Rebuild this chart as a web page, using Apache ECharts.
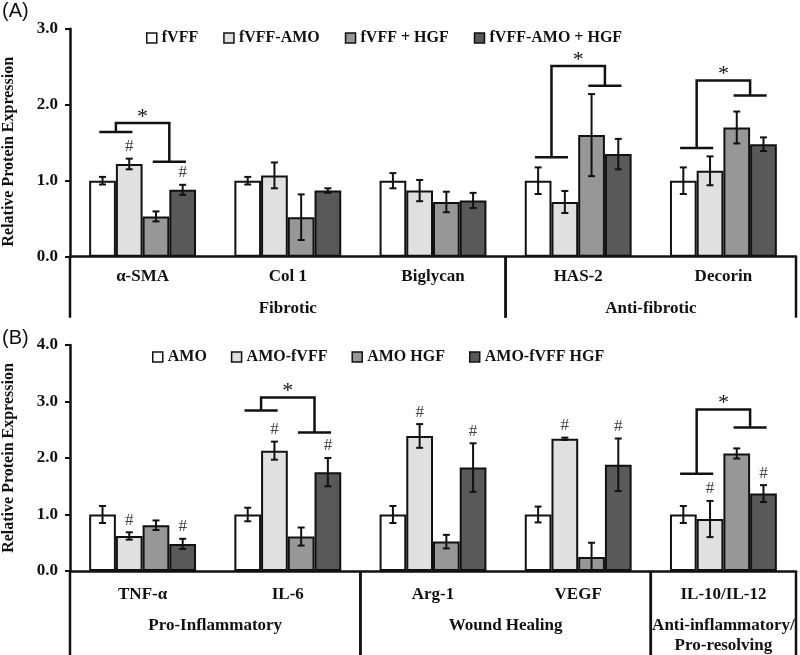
<!DOCTYPE html>
<html>
<head>
<meta charset="utf-8">
<script src="https://cdn.jsdelivr.net/npm/echarts@6/dist/echarts.min.js"></script>
<style>
  html, body { margin: 0; padding: 0; background: #fff; }
  #main { width: 800px; height: 655px; }
</style>
</head>
<body>
<div id="main"></div>
<script>
// panel (A)
const catsA = ['α-SMA', 'Col 1', 'Biglycan', 'HAS-2', 'Decorin'];
const namesA = ['fVFF', 'fVFF-AMO', 'fVFF + HGF', 'fVFF-AMO + HGF'];
const meanA = [
  [1.00, 1.00, 1.00, 1.00, 1.00],
  [1.22, 1.07, 0.87, 0.72, 1.13],
  [0.53, 0.52, 0.72, 1.60, 1.70],
  [0.88, 0.87, 0.74, 1.35, 1.48]
];
const errA = [
  [0.05, 0.05, 0.10, 0.175, 0.175],
  [0.07, 0.17, 0.14, 0.145, 0.19],
  [0.066, 0.30, 0.135, 0.54, 0.21],
  [0.066, 0.03, 0.10, 0.20, 0.09]
];
const hashA = [[1, 0], [3, 0]];                 // [series, category]
const bracketsA = [[0, 1.64, 1.25, 1.76], [3, 1.31, 2.25, 2.51], [4, 1.43, 2.12, 2.32]]; // [category, left, right, top]
const groupsA = [[0, 2, 'Fibrotic'], [3, 4, 'Anti-fibrotic']];

// panel (B)
const catsB = ['TNF-α', 'IL-6', 'Arg-1', 'VEGF', 'IL-10/IL-12'];
const namesB = ['AMO', 'AMO-fVFF', 'AMO HGF', 'AMO-fVFF HGF'];
const meanB = [
  [1.00, 1.00, 1.00, 1.00, 1.00],
  [0.62, 2.13, 2.39, 2.34, 0.92],
  [0.81, 0.61, 0.52, 0.25, 2.08],
  [0.48, 1.75, 1.83, 1.88, 1.37]
];
const errB = [
  [0.15, 0.12, 0.15, 0.14, 0.15],
  [0.065, 0.16, 0.21, 0.02, 0.32],
  [0.085, 0.16, 0.12, 0.25, 0.09],
  [0.09, 0.25, 0.43, 0.465, 0.15]
];
const hashB = [[1, 0], [3, 0], [1, 1], [3, 1], [1, 2], [3, 2], [1, 3], [3, 3], [1, 4], [3, 4]];
const bracketsB = [[1, 2.84, 2.45, 3.07], [4, 1.72, 2.54, 2.86]];
const groupsB = [[0, 1, 'Pro-Inflammatory'], [2, 3, 'Wound Healing'], [4, 4, 'Anti-inflammatory/\nPro-resolving']];

const fills = ['#ffffff', '#e0e0e0', '#979797', '#595959'];
const SERIF = '"Liberation Serif", "Times New Roman", serif';
const BAR_FRAC = 0.184;

function bars(gi, names, means) {
  return names.map((n, s) => ({
    name: n, type: 'bar', xAxisIndex: gi, yAxisIndex: gi,
    barWidth: (BAR_FRAC * 100) + '%', barGap: '0%',
    itemStyle: { color: fills[s], borderColor: '#111', borderWidth: 2 },
    data: means[s]
  }));
}

function errorBars(gi, means, errs, hashes) {
  const data = [];
  means.forEach((m, s) => m.forEach((v, c) => {
    const h = hashes.some(x => x[0] === s && x[1] === c) ? 1 : 0;
    data.push([c, v - errs[s][c], v + errs[s][c], s, h]);
  }));
  return {
    type: 'custom', xAxisIndex: gi, yAxisIndex: gi, z: 5, data,
    encode: { x: 0, y: [1, 2] },
    renderItem(params, api) {
      const c = api.value(0), s = api.value(3);
      const bw = api.size([1, 0])[0] * BAR_FRAC;
      const x = api.coord([c, 0])[0] + (s - 1.5) * bw;
      const lo = api.coord([c, api.value(1)])[1];
      const hi = api.coord([c, api.value(2)])[1];
      const st = { stroke: '#111', lineWidth: 2 };
      const kids = [
        { type: 'line', shape: { x1: x, y1: lo, x2: x, y2: hi }, style: st },
        { type: 'line', shape: { x1: x - 3.5, y1: lo, x2: x + 3.5, y2: lo }, style: st },
        { type: 'line', shape: { x1: x - 3.5, y1: hi, x2: x + 3.5, y2: hi }, style: st }
      ];
      if (api.value(4)) {
        kids.push({ type: 'text', style: { text: '#', x: x, y: hi - 12, align: 'center', verticalAlign: 'middle',
          font: '17px ' + SERIF, fill: '#444' } });
      }
      return { type: 'group', children: kids };
    }
  };
}

function brackets(gi, list) {
  return {
    type: 'custom', xAxisIndex: gi, yAxisIndex: gi, z: 6, data: list,
    encode: { x: 0, y: [1, 2, 3] },
    renderItem(params, api) {
      const c = api.value(0);
      const bw = api.size([1, 0])[0] * BAR_FRAC;
      const cx = api.coord([c, 0])[0];
      const xl = cx - bw, xr = cx + bw, h = bw * 0.62;
      const yl = api.coord([c, api.value(1)])[1];
      const yr = api.coord([c, api.value(2)])[1];
      const yt = api.coord([c, api.value(3)])[1];
      const st = { stroke: '#111', lineWidth: 2.5, fill: null };
      return { type: 'group', children: [
        { type: 'polyline', shape: { points: [[xl, yl], [xl, yt], [xr, yt], [xr, yr]] }, style: st },
        { type: 'line', shape: { x1: xl - h, y1: yl, x2: xl + h, y2: yl }, style: st },
        { type: 'line', shape: { x1: xr - h, y1: yr, x2: xr + h, y2: yr }, style: st },
        { type: 'text', style: { text: '*', x: cx, y: yt - 6, align: 'center', verticalAlign: 'middle',
          font: '22px ' + SERIF, fill: '#111' } }
      ] };
    }
  };
}

function groupAxis(gi, groups, depth, labelTop) {
  return {
    type: 'custom', xAxisIndex: gi, yAxisIndex: gi, z: 4,
    data: groups.map(g => [g[0], g[1]]),
    encode: { x: [0, 1] },
    renderItem(params, api) {
      const band = api.size([1, 0])[0];
      const x0 = api.coord([api.value(0), 0])[0] - band / 2;
      const x1 = api.coord([api.value(1), 0])[0] + band / 2;
      const y0 = api.coord([api.value(0), 0])[1];
      const st = { stroke: '#111', lineWidth: 2.5 };
      return { type: 'group', children: [
        { type: 'line', shape: { x1: x0, y1: y0, x2: x0, y2: y0 + depth }, style: st },
        { type: 'line', shape: { x1: x1, y1: y0, x2: x1, y2: y0 + depth }, style: st },
        { type: 'text', style: { text: groups[params.dataIndex][2], x: (x0 + x1) / 2, y: y0 + labelTop,
          align: 'center', verticalAlign: 'top', lineHeight: 20,
          font: 'bold 17px ' + SERIF, fill: '#111' } }
      ] };
    }
  };
}

function xAx(gi, cats, margin) {
  return {
    type: 'category', gridIndex: gi, data: cats,
    axisLine: { lineStyle: { color: '#111', width: 2.5 } },
    axisTick: { show: false },
    axisLabel: { margin: margin, color: '#111', fontFamily: SERIF, fontWeight: 'bold', fontSize: 17 }
  };
}

function yAx(gi, max, pad) {
  return {
    type: 'value', gridIndex: gi, min: 0, max: max, interval: 1,
    name: 'Relative Protein Expression', nameLocation: 'middle', nameGap: 53,
    nameTextStyle: { color: '#111', fontFamily: SERIF, fontWeight: 'bold', fontSize: 16, padding: pad },
    axisLine: { show: true, lineStyle: { color: '#111', width: 2.5 } },
    axisTick: { show: true, length: 5, lineStyle: { color: '#111', width: 2 } },
    splitLine: { show: false },
    axisLabel: { margin: 12, color: '#111', fontFamily: SERIF, fontWeight: 'bold', fontSize: 17,
      formatter: v => v.toFixed(1) }
  };
}

const legendStyle = { color: '#111', fontFamily: SERIF, fontWeight: 'bold', fontSize: 16 };

const chart = echarts.init(document.getElementById('main'));
chart.setOption({
  animation: false,
  backgroundColor: '#fff',
  title: [
    { text: '(A)', left: 2, top: 1, padding: 0, textStyle: { fontFamily: '"Liberation Sans", Arial', fontWeight: 'normal', fontSize: 20, color: '#111' } },
    { text: '(B)', left: 2, top: 328, padding: 0, textStyle: { fontFamily: '"Liberation Sans", Arial', fontWeight: 'normal', fontSize: 20, color: '#111' } }
  ],
  legend: [
    { data: namesA, left: 141, top: 25, itemWidth: 10, itemHeight: 10, itemGap: 25, icon: 'rect',
      itemStyle: { borderWidth: 1.5 }, textStyle: legendStyle },
    { data: namesB, left: 147, top: 344, itemWidth: 10, itemHeight: 10, itemGap: 24, icon: 'rect',
      itemStyle: { borderWidth: 1.5 }, textStyle: legendStyle }
  ],
  grid: [
    { left: 70, right: 4, top: 28.7, height: 228, containLabel: false, outerBoundsMode: 'none' },
    { left: 70, right: 4, top: 345, height: 226, containLabel: false, outerBoundsMode: 'none' }
  ],
  xAxis: [xAx(0, catsA, 11), xAx(1, catsB, 15)],
  yAxis: [yAx(0, 3, [0, 18, 0, 0]), yAx(1, 4, 0)],
  series: [
    ...bars(0, namesA, meanA),
    ...bars(1, namesB, meanB),
    errorBars(0, meanA, errA, hashA),
    errorBars(1, meanB, errB, hashB),
    brackets(0, bracketsA),
    brackets(1, bracketsB),
    groupAxis(0, groupsA, 61, 42),
    groupAxis(1, groupsB, 90, 45)
  ]
});
</script>
</body>
</html>
